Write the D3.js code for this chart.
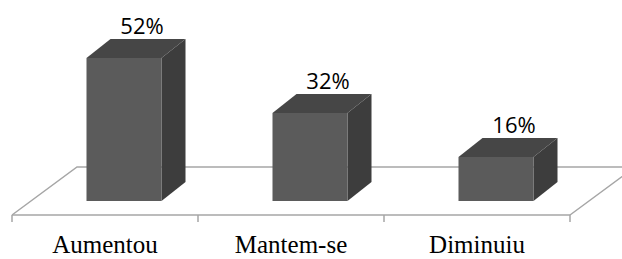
<!DOCTYPE html>
<html>
<head>
<meta charset="utf-8">
<title>Bar 3D</title>
<script src="https://d3js.org/d3.v7.min.js"></script>
<style>
body { margin: 0; background: #fff; }
.cat { font-family: "Liberation Serif", "Times New Roman", Times, serif; font-size: 25px; fill: #000; }
.val { font-family: "Open Sans", sans-serif; font-size: 22px; fill: #000; }
</style>
</head>
<body>
<div class="chart"></div>
<script>
// data
var categories = ["Aumentou", "Mantem-se", "Diminuiu"];
var values = [52, 32, 16];
var valueLabels = ["52%", "32%", "16%"];

var W = 622, H = 259;
var svg = d3.select(".chart").append("svg")
    .attr("width", W)
    .attr("height", H);

// floor: front edge and depth offset
var floorY = 215, depthX = 65, depthY = -48;
var x = d3.scaleBand()
    .domain(categories)
    .range([12, 570])
    .paddingInner(0)
    .paddingOuter(0);

// bars sit a bit back from the floor front edge
var barBase = 201, barShift = 19;
var barDX = 24, barDY = -19, barW = 75;
var y = d3.scaleLinear().domain([0, 60]).range([barBase, barBase - 165]);

var floorColor = "#a6a6a6";

// floor back + sides
var floor = svg.append("g");
floor.append("polyline")
    .attr("points", [
        [12, floorY], [12 + depthX, floorY + depthY],
        [570 + depthX, floorY + depthY], [570, floorY]
    ].map(function(p) { return p.join(","); }).join(" "))
    .attr("fill", "none")
    .attr("stroke", floorColor)
    .attr("stroke-width", 1.5);

// bars
var bars = svg.selectAll(".bar")
    .data(values)
    .enter().append("g")
    .attr("class", "bar");

function x0(d, i) { return x(categories[i]) + x.bandwidth() / 2 - barW / 2 + barShift; }

// side face
bars.append("path")
    .attr("d", function(d, i) {
        var l = x0(d, i) + barW, t = y(d), b = barBase;
        return "M" + l + "," + b + "L" + l + "," + t +
            "L" + (l + barDX) + "," + (t + barDY) +
            "L" + (l + barDX) + "," + (b + barDY) + "Z";
    })
    .attr("fill", "#3d3d3d");

// top face
bars.append("path")
    .attr("d", function(d, i) {
        var l = x0(d, i), t = y(d);
        return "M" + l + "," + t + "L" + (l + barW) + "," + t +
            "L" + (l + barW + barDX) + "," + (t + barDY) +
            "L" + (l + barDX) + "," + (t + barDY) + "Z";
    })
    .attr("fill", "#464646");

// front face
bars.append("rect")
    .attr("x", x0)
    .attr("y", function(d) { return y(d); })
    .attr("width", barW)
    .attr("height", function(d) { return barBase - y(d); })
    .attr("fill", "#5b5b5b");

// value labels
bars.append("text")
    .attr("class", "val")
    .attr("x", function(d, i) { return x0(d, i) + barW / 2 + 18; })
    .attr("y", function(d) { return y(d) + barDY - 5; })
    .attr("text-anchor", "middle")
    .text(function(d, i) { return valueLabels[i]; });

// floor front edge + ticks
floor.append("line")
    .attr("x1", 12).attr("x2", 570)
    .attr("y1", floorY).attr("y2", floorY)
    .attr("stroke", floorColor)
    .attr("stroke-width", 1.5);

var ticks = [12].concat(categories.map(function(c) { return x(c) + x.bandwidth(); }));
floor.selectAll(".tick")
    .data(ticks)
    .enter().append("line")
    .attr("x1", function(d) { return d; })
    .attr("x2", function(d) { return d; })
    .attr("y1", floorY)
    .attr("y2", floorY + 7)
    .attr("stroke", floorColor)
    .attr("stroke-width", 1.5);

// category labels
svg.selectAll(".cat")
    .data(categories)
    .enter().append("text")
    .attr("class", "cat")
    .attr("x", function(d) { return x(d) + x.bandwidth() / 2; })
    .attr("y", 253)
    .attr("text-anchor", "middle")
    .text(function(d) { return d; });
</script>
</body>
</html>
